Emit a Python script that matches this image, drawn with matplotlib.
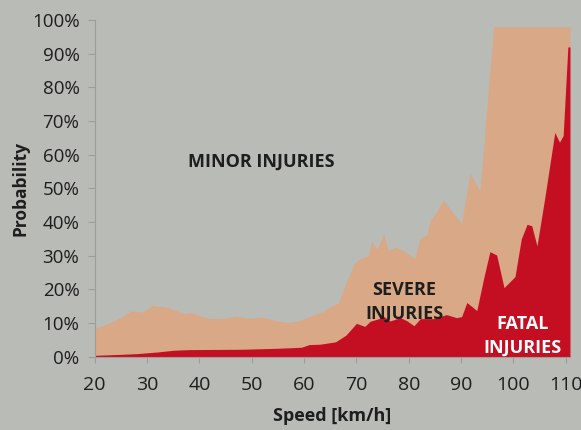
import matplotlib.pyplot as plt
import numpy as np

# severe + fatal (top of the tan area), percent
total_speed = [20, 22, 25, 27, 29, 31, 34, 37, 38.5, 42, 44.5, 47, 49.5, 52, 55, 57, 59,
               61.5, 63.5, 65.5, 66.5, 68, 69.7, 71, 72.3, 72.9, 73.9, 75.2, 76.1, 77.4,
               79, 81.2, 82.1, 83.4, 84.1, 85.4, 86.6, 88.5, 90.1, 91.7, 93.6, 96.2, 110.8]
total_pct = [8.4, 9.5, 11.6, 13.6, 13.2, 15.2, 14.6, 12.8, 13.0, 11.3, 11.3, 12.0, 11.4, 11.7,
             10.6, 10.2, 10.6, 12.2, 13.3, 15.3, 15.8, 21.9, 27.9, 29.4, 29.9, 34.4, 31.9,
             36.4, 31.5, 32.5, 31.5, 29.1, 35.1, 36.1, 40.4, 43.1, 46.6, 42.6, 39.6, 54.5,
             49.1, 98.0, 98.0]

# fatal injuries, percent
fatal_speed = [20, 25, 28, 32, 35, 38, 48, 55, 59.5, 61, 63, 66, 68, 70, 71.6, 72.6, 74.3,
               75.2, 76.4, 78.4, 79.6, 81, 82.2, 84.7, 87.2, 89.1, 90.1, 91.1, 93, 94.3,
               95.5, 96.8, 98.2, 100.3, 101.5, 102.6, 103.5, 104.5, 106, 107.9, 108.8,
               109.5, 110.4, 110.8]
fatal_pct = [0.4, 0.7, 0.9, 1.4, 1.9, 2.1, 2.2, 2.5, 2.8, 3.6, 3.7, 4.4, 6.4, 9.9, 9.0, 10.5,
             11.3, 12.0, 10.6, 11.6, 10.7, 9.2, 11.3, 11.3, 12.5, 11.6, 11.9, 16.1, 13.7,
             23.2, 31.2, 30.2, 20.5, 23.8, 35.0, 39.3, 38.9, 32.9, 47.3, 66.6, 63.7, 65.7,
             92.0, 92.0]

x_ticks = list(range(20, 111, 10))
y_ticks = list(range(0, 101, 10))

bg = '#b9bbb6'
tan = '#d9a886'
red = '#c40f22'
txt = '#1e1e1e'

plt.rcParams['font.family'] = ['Open Sans', 'DejaVu Sans']

fig = plt.figure(figsize=(5.81, 4.30), dpi=100, facecolor=bg)
ax = fig.add_axes([0.163, 0.1705, 0.818, 0.783], facecolor=bg)

ax.fill_between(total_speed, 0, total_pct, color=tan, lw=0)
ax.fill_between(fatal_speed, 0, fatal_pct, color=red, lw=0)

ax.set_xlim(20, 110.8)
ax.set_ylim(0, 100)
ax.set_xticks(x_ticks)
ax.set_yticks(y_ticks)
ax.set_yticklabels(['{}%'.format(v) for v in y_ticks])

for s in ['top', 'right']:
    ax.spines[s].set_visible(False)
for s in ['left', 'bottom']:
    ax.spines[s].set_color('#9c9e9a')
    ax.spines[s].set_linewidth(0.8)
ax.tick_params(axis='x', length=4, pad=10, color='#9c9e9a', labelsize=14, labelcolor=txt)
ax.tick_params(axis='y', length=5, pad=6, color='#9c9e9a', labelsize=13.5, labelcolor=txt)

ax.set_xlabel('Speed [km/h]', fontsize=13, fontweight='bold', color=txt, labelpad=9)
ax.set_ylabel('Probability', fontsize=12.5, fontweight='bold', color=txt, labelpad=2)

ax.text(51.9, 57.8, 'MINOR INJURIES', ha='center', va='center', fontsize=13,
        fontweight='bold', color=txt)
ax.text(79.2, 16.3, 'SEVERE\nINJURIES', ha='center', va='center', fontsize=13,
        fontweight='bold', color=txt, linespacing=1.4)
ax.text(101.8, 6.3, 'FATAL\nINJURIES', ha='center', va='center', fontsize=13,
        fontweight='bold', color='white', linespacing=1.4)

fig.savefig('out.png', dpi=100, facecolor=bg)
